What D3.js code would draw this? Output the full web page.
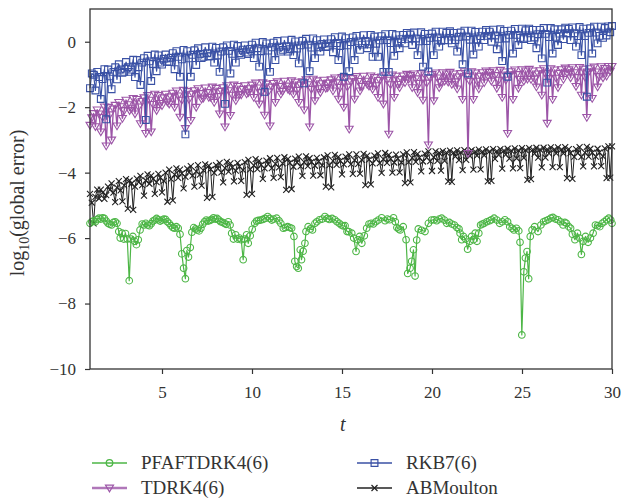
<!DOCTYPE html>
<html>
<head>
<meta charset="utf-8">
<script src="https://cdn.jsdelivr.net/npm/d3@7"></script>
<style>
  body { margin: 0; background: #fff; }
  svg { display: block; }
  text { font-family: "Liberation Serif", "Times New Roman", Times, "DejaVu Serif", serif; }
</style>
</head>
<body>
<svg id="chart" width="621" height="502"></svg>
<script>
// Fixed-step solvers report on a uniform output grid: t = gridStart + k * gridStep
const gridStart = 1.0;
const gridStep = 0.1;

// log10(global error) for RKB7(6)
const rkb7 = [
  -1.42,-0.97,-1.01,-1.49,-0.92,-1.08,-1.75,-1.14,-0.84,-2.37,
  -0.85,-1.06,-1.45,-0.92,-0.78,-1.15,-0.69,-0.85,-0.95,-0.92,
  -0.62,-0.78,-0.92,-0.85,-0.55,-1.08,-0.56,-0.78,-1.32,-0.64,
  -0.5,-2.39,-0.43,-0.6,-1.2,-0.68,-0.39,-0.9,-0.42,-0.64,
  -0.7,-0.52,-0.39,-0.61,-0.62,-0.49,-0.35,-0.84,-0.29,-0.46,
  -1.07,-0.54,-0.25,-2.83,-0.29,-0.51,-1.07,-0.4,-0.26,-0.71,
  -0.2,-0.37,-0.5,-0.46,-0.17,-0.35,-0.45,-0.44,-0.15,-0.64,
  -0.19,-0.42,-0.92,-0.3,-0.17,-1.9,-0.11,-0.28,-0.97,-0.37,
  -0.09,-0.64,-0.13,-0.35,-0.4,-0.24,-0.11,-0.33,-0.38,-0.22,
  -0.09,-0.5,-0.03,-0.2,-0.76,-0.29,-0.01,-1.53,-0.05,-0.27,
  -0.92,-0.17,-0.03,-0.56,0.02,-0.15,-0.3,-0.25,0.04,-0.14,
  -0.3,-0.23,0.06,-0.41,0.01,-0.21,-0.66,-0.11,0.03,-1.27,
  0.09,-0.09,-0.9,-0.18,0.1,-0.5,0.05,-0.17,-0.3,-0.07,
  0.07,-0.16,-0.15,-0.05,0.08,-0.32,0.14,-0.04,-0.56,-0.13,
  0.16,-1.07,0.11,-0.11,-0.9,-0.01,0.13,-0.56,0.18,0.01,
  -0.25,-0.09,0.2,0.02,-0.2,-0.08,0.21,-0.46,0.16,-0.06,
  -0.46,0.04,0.17,-0.92,0.23,0.05,-0.92,-0.04,0.24,-0.43,
  0.2,-0.03,-0.2,0.08,0.21,-0.05,0.27,0.09,0.22,-0.1,
  0.28,0.1,-0.41,0.01,0.29,-0.76,0.24,0.02,-0.91,0.12,
  0.25,-0.41,0.31,0.13,-0.15,0.03,0.31,0.05,0.27,0.04,
  0.32,-0.05,0.27,0.05,-0.3,0.15,0.28,-0.69,0.34,0.16,
  -0.97,0.06,0.34,-0.39,0.3,0.07,-0.15,0.17,0.31,0.05,
  0.36,0.18,0.31,0.0,0.37,0.19,-0.23,0.09,0.38,-0.59,
  0.33,0.1,-1.07,0.21,0.34,-0.36,0.39,0.21,-0.1,0.12,
  0.4,0.08,0.35,0.12,0.4,0.05,0.36,0.13,-0.2,0.23,
  0.36,-0.51,0.42,0.24,-1.25,0.14,0.42,-0.36,0.38,0.15,
  -0.1,0.25,0.38,0.08,0.43,0.26,0.39,0.05,0.44,0.26,
  -0.15,0.17,0.45,-0.41,0.4,0.17,-1.68,0.27,0.41,-0.36,
  0.46,0.28,-0.05,0.18,0.46,0.12,0.42,0.19,0.47,0.29,
  0.48
];

// log10(global error) for TDRK4(6)
const tdrk4 = [
  -2.55,-2.32,-2.19,-2.59,-2.08,-2.2,-2.75,-2.31,-1.99,-3.18,
  -2.0,-2.23,-3.0,-2.05,-1.94,-2.57,-1.85,-1.98,-2.34,-2.1,
  -1.78,-1.92,-2.1,-2.04,-1.73,-2.2,-1.76,-1.99,-2.5,-1.82,
  -1.71,-2.8,-1.64,-1.78,-2.75,-1.91,-1.6,-2.1,-1.64,-1.88,
  -1.95,-1.71,-1.6,-1.84,-1.9,-1.68,-1.57,-2.0,-1.5,-1.65,
  -2.3,-1.78,-1.48,-2.65,-1.52,-1.76,-2.4,-1.6,-1.49,-2.0,
  -1.43,-1.58,-1.75,-1.72,-1.41,-1.55,-1.7,-1.69,-1.38,-1.85,
  -1.42,-1.67,-2.2,-1.51,-1.4,-2.6,-1.34,-1.49,-2.25,-1.63,
  -1.32,-1.8,-1.36,-1.61,-1.62,-1.45,-1.34,-1.59,-1.55,-1.43,
  -1.32,-1.7,-1.26,-1.41,-1.9,-1.55,-1.25,-2.24,-1.29,-1.53,
  -2.57,-1.38,-1.27,-1.85,-1.22,-1.36,-1.6,-1.51,-1.2,-1.35,
  -1.45,-1.49,-1.19,-1.6,-1.23,-1.48,-1.85,-1.32,-1.22,-2.08,
  -1.16,-1.31,-2.6,-1.45,-1.14,-1.8,-1.19,-1.43,-1.55,-1.28,
  -1.17,-1.42,-1.4,-1.26,-1.16,-1.5,-1.1,-1.25,-1.75,-1.39,
  -1.09,-2.0,-1.13,-1.38,-2.67,-1.22,-1.12,-1.75,-1.06,-1.21,
  -1.5,-1.36,-1.05,-1.2,-1.3,-1.35,-1.04,-1.45,-1.09,-1.34,
  -1.7,-1.18,-1.07,-1.9,-1.02,-1.17,-2.82,-1.31,-1.01,-1.7,
  -1.05,-1.3,-1.4,-1.15,-1.04,-1.25,-0.99,-1.14,-1.03,-1.4,
  -0.98,-1.13,-1.55,-1.27,-0.97,-1.78,-1.01,-1.26,-3.15,-1.11,
  -1.0,-1.8,-0.95,-1.1,-1.4,-1.24,-0.94,-1.2,-0.98,-1.23,
  -0.93,-1.3,-0.98,-1.22,-1.44,-1.07,-0.97,-1.76,-0.91,-1.06,
  -3.41,-1.21,-0.91,-1.76,-0.95,-1.2,-1.44,-1.05,-0.94,-1.25,
  -0.89,-1.04,-0.93,-1.2,-0.88,-1.03,-1.42,-1.17,-0.87,-1.7,
  -0.92,-1.17,-2.8,-1.01,-0.91,-1.76,-0.86,-1.0,-1.42,-1.15,
  -0.85,-1.2,-0.89,-1.14,-0.84,-1.15,-0.89,-1.13,-1.38,-0.98,
  -0.88,-1.63,-0.82,-0.97,-2.49,-1.12,-0.82,-1.76,-0.86,-1.11,
  -1.4,-0.96,-0.85,-1.15,-0.8,-0.95,-0.85,-1.1,-0.79,-0.94,
  -1.36,-1.09,-0.78,-1.63,-0.83,-1.08,-2.31,-0.92,-0.82,-1.73,
  -0.77,-0.92,-1.38,-1.06,-0.76,-1.1,-0.81,-1.05,-0.75,-0.9,
  -0.75
];

// log10(global error) for ABMoulton
const abMoulton = [
  -4.65,-4.92,-5.55,-4.74,-4.52,-4.79,-4.52,-4.61,-4.8,-4.69,
  -4.43,-4.53,-4.33,-4.61,-4.9,-4.46,-4.26,-4.54,-4.88,-4.39,
  -4.2,-5.1,-4.24,-4.34,-5.14,-4.43,-4.18,-4.29,-4.1,-4.38,
  -4.7,-4.24,-4.05,-4.34,-4.09,-4.19,-4.65,-4.29,-4.04,-4.15,
  -4.6,-4.25,-4.0,-4.89,-3.91,-4.2,-4.85,-4.06,-3.87,-4.16,
  -3.91,-4.02,-4.48,-4.13,-3.88,-3.99,-3.8,-4.09,-4.43,-3.96,
  -3.77,-4.06,-4.4,-3.93,-3.75,-4.77,-3.79,-3.9,-4.74,-4.01,
  -3.77,-3.88,-3.7,-3.99,-4.3,-3.86,-3.67,-3.97,-3.72,-3.84,
  -4.27,-3.94,-3.7,-3.81,-4.25,-3.92,-3.68,-4.68,-3.61,-3.9,
  -4.65,-3.78,-3.59,-3.89,-3.64,-3.76,-4.19,-3.87,-3.63,-3.74,
  -3.56,-3.86,-4.16,-3.73,-3.55,-3.84,-4.14,-3.72,-3.53,-4.53,
  -3.58,-3.7,-4.5,-3.82,-3.57,-3.69,-3.51,-3.81,-4.1,-3.68,
  -3.5,-3.8,-3.56,-3.67,-4.09,-3.79,-3.55,-3.66,-4.08,-3.78,
  -3.53,-4.43,-3.47,-3.77,-4.45,-3.64,-3.46,-3.76,-3.52,-3.64,
  -4.05,-3.75,-3.51,-3.63,-3.44,-3.74,-4.04,-3.62,-3.44,-3.73,
  -4.03,-3.61,-3.43,-4.38,-3.48,-3.6,-4.36,-3.72,-3.48,-3.59,
  -3.41,-3.71,-4.01,-3.59,-3.4,-3.7,-3.46,-3.58,-4.0,-3.69,
  -3.45,-3.57,-3.99,-3.69,-3.44,-4.32,-3.38,-3.68,-4.3,-3.55,
  -3.37,-3.67,-3.43,-3.54,-3.96,-3.66,-3.42,-3.54,-3.35,-3.65,
  -3.95,-3.53,-3.35,-3.64,-3.4,-3.94,-3.34,-3.64,-3.39,-4.27,
  -3.33,-4.28,-3.39,-3.5,-3.32,-3.62,-3.38,-3.92,-3.31,-3.61,
  -3.37,-3.49,-3.31,-3.91,-3.36,-3.48,-3.3,-3.9,-3.36,-3.47,
  -3.29,-4.27,-3.35,-4.25,-3.28,-3.58,-3.34,-3.46,-3.28,-3.88,
  -3.33,-3.45,-3.27,-3.57,-3.33,-3.87,-3.26,-3.56,-3.32,-3.86,
  -3.25,-3.55,-3.31,-4.22,-3.25,-4.2,-3.3,-3.42,-3.24,-3.54,
  -3.3,-3.84,-3.24,-3.54,-3.29,-3.41,-3.23,-3.83,-3.29,-3.41,
  -3.23,-3.83,-3.29,-3.41,-3.22,-4.17,-3.28,-3.4,-4.19,-3.52,
  -3.28,-3.4,-3.22,-3.52,-3.81,-3.39,-3.21,-3.51,-3.27,-3.39,
  -3.81,-3.51,-3.27,-3.38,-3.8,-3.5,-3.26,-4.17,-3.2,-4.15,
  -3.2
];

// PFAFTDRK4(6) uses adaptive steps: [t, log10(global error)]
const pfaftdrk4 = [
  [1.0,-5.55],[1.1,-5.5],[1.2,-5.47],[1.3,-5.5],[1.4,-5.43],[1.5,-5.39],[1.6,-5.42],[1.7,-5.38],
  [1.8,-5.4],[1.9,-5.48],[2.0,-5.55],[2.1,-5.58],[2.2,-5.6],[2.3,-5.52],[2.4,-5.5],[2.5,-5.55],
  [2.6,-5.8],[2.68,-6.0],[2.78,-5.85],[2.88,-6.03],[2.97,-5.86],[3.07,-6.03],[3.18,-7.3],[3.28,-6.03],
  [3.38,-5.95],[3.48,-6.1],[3.58,-6.2],[3.68,-6.05],[3.78,-5.75],[3.9,-5.57],[4.0,-5.6],
  [4.1,-5.55],[4.2,-5.6],[4.3,-5.62],[4.4,-5.56],[4.5,-5.48],[4.6,-5.45],[4.7,-5.4],[4.8,-5.44],
  [4.9,-5.48],[5.0,-5.45],[5.1,-5.42],[5.2,-5.43],[5.3,-5.5],[5.4,-5.55],[5.5,-5.62],[5.6,-5.68],
  [5.7,-5.7],[5.8,-5.65],[5.9,-5.7],
  [6.0,-5.88],[6.1,-6.48],[6.2,-6.92],[6.3,-7.24],[6.38,-6.38],[6.47,-6.58],[6.57,-6.29],[6.66,-5.82],
  [6.76,-5.68],[6.86,-5.72],[6.96,-5.75],[7.06,-5.78],[7.16,-5.7],[7.26,-5.58],
  [7.36,-5.5],[7.46,-5.45],[7.56,-5.48],[7.66,-5.46],[7.76,-5.43],[7.86,-5.38],[7.96,-5.42],[8.06,-5.4],
  [8.16,-5.45],[8.26,-5.5],[8.36,-5.52],[8.46,-5.55],[8.56,-5.58],[8.68,-5.5],[8.78,-5.6],
  [8.87,-5.85],[8.97,-6.03],[9.09,-5.9],[9.2,-6.03],[9.3,-6.0],[9.4,-6.05],[9.51,-6.66],[9.6,-6.03],
  [9.7,-5.9],[9.79,-6.16],[9.9,-5.93],[10.01,-5.73],[10.15,-5.55],
  [10.25,-5.48],[10.35,-5.46],[10.48,-5.45],[10.6,-5.43],[10.72,-5.4],[10.87,-5.34],[10.98,-5.4],
  [11.1,-5.45],[11.2,-5.42],[11.37,-5.39],[11.5,-5.47],[11.6,-5.55],[11.74,-5.7],[11.85,-5.68],
  [11.98,-5.65],[12.1,-5.68],[12.2,-5.7],
  [12.33,-5.95],[12.38,-6.71],[12.48,-6.87],[12.57,-6.92],[12.68,-6.36],[12.75,-6.66],[12.84,-6.4],
  [12.94,-6.16],[13.0,-5.8],[13.12,-5.65],[13.24,-5.72],[13.36,-5.75],[13.5,-5.55],
  [13.6,-5.5],[13.75,-5.44],[13.9,-5.42],[14.05,-5.34],[14.18,-5.4],[14.3,-5.43],[14.45,-5.4],
  [14.6,-5.44],[14.72,-5.5],[14.85,-5.55],[14.96,-5.6],[15.07,-5.63],
  [15.17,-5.62],[15.28,-5.8],[15.37,-5.8],[15.54,-5.85],[15.65,-6.0],[15.78,-6.41],[15.88,-6.05],
  [15.98,-5.95],[16.1,-6.16],[16.24,-5.93],[16.37,-5.7],[16.5,-5.57],
  [16.62,-5.55],[16.74,-5.57],[16.88,-5.5],[17.02,-5.45],[17.2,-5.38],[17.39,-5.47],[17.52,-5.42],
  [17.65,-5.44],[17.86,-5.38],[17.96,-5.5],[18.05,-5.68],[18.15,-5.72],[18.23,-5.75],[18.4,-5.65],
  [18.56,-6.05],[18.65,-7.08],[18.78,-6.92],[18.87,-6.71],[18.97,-6.36],[19.06,-7.16],[19.15,-6.06],
  [19.24,-5.72],[19.42,-5.76],[19.61,-5.8],[19.8,-5.55],
  [19.98,-5.45],[20.12,-5.44],[20.26,-5.47],[20.4,-5.42],[20.54,-5.39],[20.68,-5.45],[20.82,-5.55],
  [20.96,-5.52],[21.1,-5.57],[21.24,-5.6],[21.38,-5.68],[21.5,-5.72],
  [21.56,-5.85],[21.65,-6.05],[21.75,-5.95],[21.87,-6.03],[21.98,-6.34],[22.1,-6.1],[22.2,-5.95],
  [22.3,-6.05],[22.4,-5.85],[22.5,-6.1],[22.6,-5.85],[22.7,-5.6],
  [22.8,-5.57],[22.9,-5.55],[23.05,-5.5],[23.2,-5.47],[23.3,-5.44],[23.45,-5.39],[23.6,-5.45],
  [23.76,-5.55],[23.9,-5.5],[24.05,-5.44],[24.2,-5.5],[24.32,-5.65],[24.45,-5.7],[24.55,-5.75],
  [24.69,-5.7],[24.82,-5.78],
  [24.89,-6.13],[24.99,-8.96],[25.1,-7.03],[25.19,-6.61],[25.28,-6.41],[25.37,-7.24],[25.46,-5.95],
  [25.56,-5.75],[25.7,-5.65],[25.89,-5.8],[26.05,-5.6],
  [26.2,-5.5],[26.32,-5.47],[26.45,-5.44],[26.6,-5.39],[26.72,-5.37],[26.86,-5.42],[27.0,-5.44],
  [27.14,-5.5],[27.28,-5.6],[27.38,-5.52],[27.47,-5.55],[27.6,-5.65],[27.7,-5.7],
  [27.8,-5.88],[27.94,-6.05],[28.08,-5.85],[28.2,-6.0],[28.3,-6.5],[28.4,-6.1],[28.53,-5.95],
  [28.67,-6.13],[28.8,-6.0],[28.95,-5.85],[29.08,-5.6],
  [29.2,-5.62],[29.32,-5.65],[29.45,-5.55],[29.57,-5.5],[29.7,-5.44],[29.82,-5.39],[29.93,-5.45],
  [30.0,-5.55]
];

const xTicks = [5, 10, 15, 20, 25, 30];
const yTicks = [0, -2, -4, -6, -8, -10];

const seriesNames = ["PFAFTDRK4(6)", "TDRK4(6)", "RKB7(6)", "ABMoulton"];

// ---- layout ----
const svg = d3.select("#chart");
const plot = { left: 90, right: 612, top: 9, bottom: 369 };
const x = d3.scaleLinear().domain([1, 30]).range([plot.left, plot.right]);
const y = d3.scaleLinear().domain([-10, 1]).range([plot.bottom, plot.top]);

const serif = '"Liberation Serif", "Times New Roman", Times, "DejaVu Serif", serif';
const ink = "#333";

const onGrid = vals => vals.map((v, k) => [gridStart + k * gridStep, v]);

// marker shapes
const markerPath = {
  circle: "M3.3,0A3.3,3.3 0 1,1 -3.3,0A3.3,3.3 0 1,1 3.3,0Z",
  triDown: "M-4,-2.8L4,-2.8L0,3.9Z",
  square: "M-3.4,-3.4H3.4V3.4H-3.4Z",
  cross: "M-3,-3L3,3M-3,3L3,-3"
};

const styles = {
  "PFAFTDRK4(6)": { color: "#4db646", width: 1.2, marker: "circle", mWidth: 1.1 },
  "TDRK4(6)":     { color: "#9c55a7", width: 1.4, marker: "triDown", mWidth: 1.1 },
  "RKB7(6)":      { color: "#3a51a5", width: 1.2, marker: "square", mWidth: 1.1 },
  "ABMoulton":    { color: "#222222", width: 1.0, marker: "cross", mWidth: 1.1 }
};

const seriesData = {
  "PFAFTDRK4(6)": pfaftdrk4,
  "TDRK4(6)": onGrid(tdrk4),
  "RKB7(6)": onGrid(rkb7),
  "ABMoulton": onGrid(abMoulton)
};

const line = d3.line().x(d => x(d[0])).y(d => y(d[1]));

// draw back to front
const drawOrder = ["ABMoulton", "PFAFTDRK4(6)", "TDRK4(6)", "RKB7(6)"];
drawOrder.forEach(name => {
  const s = styles[name];
  const data = seriesData[name];
  const g = svg.append("g").attr("class", "series");
  g.append("path")
    .datum(data)
    .attr("d", line)
    .attr("fill", "none")
    .attr("stroke", s.color)
    .attr("stroke-width", s.width)
    .attr("stroke-linejoin", "round");
  g.selectAll("path.mark")
    .data(data)
    .join("path")
    .attr("class", "mark")
    .attr("transform", d => `translate(${x(d[0])},${y(d[1])})`)
    .attr("d", markerPath[s.marker])
    .attr("fill", "none")
    .attr("stroke", s.color)
    .attr("stroke-width", s.mWidth);
});

// ---- frame and axes ----
svg.append("rect")
  .attr("x", plot.left).attr("y", plot.top)
  .attr("width", plot.right - plot.left).attr("height", plot.bottom - plot.top)
  .attr("fill", "none").attr("stroke", ink).attr("stroke-width", 1.3);

const xAxis = d3.axisBottom(x).tickValues(xTicks).tickSize(5).tickSizeOuter(0).tickPadding(12);
const gx = svg.append("g").attr("transform", `translate(0,${plot.bottom})`).call(xAxis);

const yAxis = d3.axisLeft(y).tickValues(yTicks).tickSize(5).tickSizeOuter(0).tickPadding(9)
  .tickFormat(d => d < 0 ? "\u2212" + Math.abs(d) : String(d));
const gy = svg.append("g").attr("transform", `translate(${plot.left},0)`).call(yAxis);

[gx, gy].forEach(g => {
  g.attr("font-family", serif);
  g.select(".domain").remove();
  g.selectAll(".tick line").attr("stroke", ink).attr("stroke-width", 1.2);
  g.selectAll(".tick text")
    .attr("fill", ink)
    .attr("font-family", serif)
    .style("font-size", "17px");
});

// axis titles
svg.append("text")
  .attr("x", x(15.05)).attr("y", 431)
  .attr("text-anchor", "middle")
  .attr("font-family", serif)
  .style("font-size", "20px").style("font-style", "italic")
  .attr("fill", ink)
  .text("t");

const yTitle = svg.append("text")
  .attr("transform", "translate(24,203) rotate(-90)")
  .attr("text-anchor", "middle")
  .attr("font-family", serif)
  .style("font-size", "20px")
  .attr("fill", ink);
yTitle.append("tspan").text("log");
yTitle.append("tspan").attr("dy", 5).style("font-size", "14px").text("10");
yTitle.append("tspan").attr("dy", -5).text("(global error)");

// ---- legend ----
const legendPos = {
  "PFAFTDRK4(6)": { x: 92, y: 463 },
  "TDRK4(6)":     { x: 92, y: 488 },
  "RKB7(6)":      { x: 357, y: 463 },
  "ABMoulton":    { x: 357, y: 488 }
};
seriesNames.forEach(name => {
  const s = styles[name];
  const p = legendPos[name];
  const g = svg.append("g").attr("transform", `translate(${p.x},${p.y})`);
  g.append("line")
    .attr("x1", 0).attr("x2", 35).attr("y1", 0).attr("y2", 0)
    .attr("stroke", s.color)
    .attr("stroke-width", name === "TDRK4(6)" ? 2.4 : 1.4)
    .attr("stroke-opacity", name === "TDRK4(6)" ? 0.8 : 1);
  g.append("path")
    .attr("transform", "translate(17.5,0)")
    .attr("d", markerPath[s.marker])
    .attr("fill", "none")
    .attr("stroke", s.color)
    .attr("stroke-width", 1.2);
  g.append("text")
    .attr("x", 49).attr("y", 0).attr("dy", "0.34em")
    .attr("font-family", serif)
    .style("font-size", "19px")
    .attr("fill", ink)
    .text(name);
});
</script>
</body>
</html>
